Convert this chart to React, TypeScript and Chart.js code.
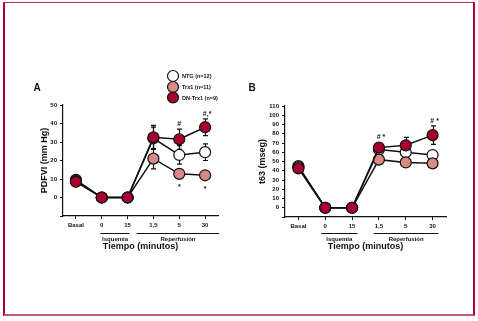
import React, { useEffect, useRef } from 'react';
import { Chart, registerables } from 'chart.js';
Chart.register(...registerables);

const categories = ['Basal', '0', '15', '1,5', '5', '30'];
const seriesNames = ['NTG (n=12)', 'Trx1 (n=11)', 'DN-Trx1 (n=9)'];
const seriesFills = ['#ffffff', '#d98a84', '#a8002e'];

// Panel A: PDFVI (mm Hg)
const pdfviNTG = [9.5, 0, 0, 32, 23, 24.5];
const pdfviNTGErr = [1, 0, 0, 6, 5, 4.5];
const pdfviTrx1 = [9, 0, 0, 21, 12.8, 12];
const pdfviTrx1Err = [1, 0, 0, 5.5, 2.2, 2];
const pdfviDN = [8.5, 0, 0, 32.5, 31.5, 38];
const pdfviDNErr = [1, 0, 0, 6.5, 5.5, 4.5];
const pdfviMarksAbove = ['', '', '', '', '#', '#,*'];
const pdfviMarksBelow = ['', '', '', '', '*', '*'];
const pdfviTicksMax = 50;

// Panel B: t63 (mseg)
const t63NTG = [45, 0, 0, 63, 60, 57];
const t63NTGErr = [1, 0, 0, 2, 3, 2];
const t63Trx1 = [44, 0, 0, 52, 49, 48];
const t63Trx1Err = [1, 0, 0, 2, 2, 2];
const t63DN = [42.5, 0, 0, 65, 67.5, 78.5];
const t63DNErr = [1, 0, 0, 2, 8.5, 10];
const t63MarksAbove = ['', '', '', '# *', '', '# *'];
const t63MarksBelow = ['', '', '', '', '', ''];
const t63TicksMax = 110;

const FONT = '"Liberation Sans", Arial, sans-serif';
const INK = '#111';

type Panel = {
  letter: string;
  yTitle: string;
  max: number;
  series: { values: number[]; errors: number[] }[];
  marksAbove: string[];
  marksBelow: string[];
  padding: { left: number; right: number; top: number; bottom: number };
  yWidth: number;
  letterX: number;
  yTitleX: number;
  isq: [number, number];
  rep: [number, number];
  legend: boolean;
};

function makeDecor(p: Panel) {
  return {
    id: 'decor' + p.letter,
    beforeDatasetsDraw(chart: any) {
      const ctx = chart.ctx;
      const ys = chart.scales.y;
      ctx.save();
      ctx.strokeStyle = INK;
      ctx.lineWidth = 1.2;
      chart.data.datasets.forEach((ds: any, di: number) => {
        const meta = chart.getDatasetMeta(di);
        ds.data.forEach((v: number, i: number) => {
          const e = p.series[di].errors[i];
          if (!e) return;
          const x = Math.round(meta.data[i].x) + 0.5;
          const t = ys.getPixelForValue(v + e);
          const b = ys.getPixelForValue(v - e);
          ctx.beginPath();
          ctx.moveTo(x, t);
          ctx.lineTo(x, b);
          ctx.moveTo(x - 2.5, t);
          ctx.lineTo(x + 2.5, t);
          ctx.moveTo(x - 2.5, b);
          ctx.lineTo(x + 2.5, b);
          ctx.stroke();
        });
      });
      ctx.restore();
    },
    afterDraw(chart: any) {
      const ctx = chart.ctx;
      const area = chart.chartArea;
      const xs = chart.scales.x;
      const ys = chart.scales.y;
      ctx.save();
      ctx.fillStyle = INK;
      ctx.strokeStyle = INK;
      ctx.lineWidth = 1;
      // letter
      ctx.font = `bold 10px ${FONT}`;
      ctx.textAlign = 'center';
      ctx.textBaseline = 'middle';
      ctx.fillText(p.letter, p.letterX, 88);
      // y title
      ctx.save();
      ctx.translate(p.yTitleX, (area.top + area.bottom) / 2);
      ctx.rotate(-Math.PI / 2);
      ctx.font = `bold 9px ${FONT}`;
      ctx.fillText(p.yTitle, 0, 0);
      ctx.restore();
      // brackets
      const step = xs.getPixelForValue(1) - xs.getPixelForValue(0);
      const groups: [string, number, number][] = [
        ['Isquemia', xs.getPixelForValue(1) + p.isq[0] * step, xs.getPixelForValue(2) + p.isq[1] * step],
        ['Reperfusión', xs.getPixelForValue(3) + p.rep[0] * step, xs.getPixelForValue(5) + p.rep[1] * step],
      ];
      ctx.font = `bold 6px ${FONT}`;
      groups.forEach(([label, l, r]) => {
        ctx.beginPath();
        ctx.moveTo(l, 233.5);
        ctx.lineTo(r, 233.5);
        ctx.stroke();
        ctx.fillText(label, (l + r) / 2, 239);
      });
      ctx.font = `bold 9px ${FONT}`;
      ctx.fillText('Tiempo (minutos)', (area.left + area.right) / 2, 247);
      // significance marks
      const dnMeta = chart.getDatasetMeta(2);
      const trMeta = chart.getDatasetMeta(1);
      ctx.font = `bold 7px ${FONT}`;
      p.marksAbove.forEach((m, i) => {
        if (!m) return;
        const v = p.series[2].values[i];
        const e = p.series[2].errors[i];
        const top = Math.min(ys.getPixelForValue(v + e), dnMeta.data[i].y - 5.5);
        ctx.fillText(m, dnMeta.data[i].x + (m.length > 1 ? 2 : 0), top - 5);
      });
      p.marksBelow.forEach((m, i) => {
        if (!m) return;
        const v = p.series[1].values[i];
        const e = p.series[1].errors[i];
        const bot = Math.max(ys.getPixelForValue(v - e), trMeta.data[i].y + 5.5);
        ctx.fillText(m, trMeta.data[i].x, bot + 8);
      });
      // legend
      if (p.legend) {
        const ly = [76, 87, 97.5];
        ctx.font = `bold 5.5px ${FONT}`;
        seriesNames.forEach((n, i) => {
          ctx.beginPath();
          ctx.arc(173, ly[i], 5.5, 0, Math.PI * 2);
          ctx.fillStyle = seriesFills[i];
          ctx.fill();
          ctx.strokeStyle = INK;
          ctx.lineWidth = 1.2;
          ctx.stroke();
          ctx.fillStyle = INK;
          ctx.textAlign = 'left';
          ctx.fillText(n, 182, ly[i] + 0.5);
        });
      }
      ctx.restore();
    },
  };
}

function makeConfig(p: Panel): any {
  const tickFont = { family: FONT, size: 6, weight: 'bold' as const };
  return {
    type: 'line',
    data: {
      labels: categories,
      datasets: p.series.map((s, i) => ({
        label: seriesNames[i],
        data: s.values,
        borderColor: INK,
        borderWidth: 1.5,
        pointRadius: 5.5,
        pointBackgroundColor: seriesFills[i],
        pointBorderColor: INK,
        pointBorderWidth: 1.2,
        order: 2 - i,
        tension: 0,
        fill: false,
      })),
    },
    options: {
      responsive: false,
      maintainAspectRatio: false,
      animation: false,
      events: [],
      layout: { padding: p.padding },
      plugins: { legend: { display: false }, tooltip: { enabled: false } },
      scales: {
        x: {
          type: 'category',
          offset: true,
          grid: { drawOnChartArea: false, tickLength: 3, color: INK },
          border: { color: INK, width: 1.2 },
          ticks: { font: tickFont, color: INK, padding: 3, maxRotation: 0, autoSkip: false },
          afterFit: (s: any) => { s.height = 14; },
        },
        y: {
          min: -10,
          max: p.max,
          grid: { drawOnChartArea: false, tickLength: 3, color: INK },
          border: { color: INK, width: 1.2 },
          ticks: {
            stepSize: 10,
            autoSkip: false,
            font: tickFont,
            color: INK,
            padding: 3,
            callback: (v: number) => (v < 0 ? '' : String(v)),
          },
          afterFit: (s: any) => { s.width = p.yWidth; },
        },
      },
    },
    plugins: [makeDecor(p)],
  };
}

const panelA: Panel = {
  letter: 'A',
  yTitle: 'PDFVI (mm Hg)',
  max: pdfviTicksMax,
  series: [
    { values: pdfviNTG, errors: pdfviNTGErr },
    { values: pdfviTrx1, errors: pdfviTrx1Err },
    { values: pdfviDN, errors: pdfviDNErr },
  ],
  marksAbove: pdfviMarksAbove,
  marksBelow: pdfviMarksBelow,
  padding: { left: 41, right: 22, top: 105, bottom: 91 },
  yWidth: 22,
  letterX: 37,
  yTitleX: 45,
  isq: [-0.05, 0.08],
  rep: [-0.65, 0.55],
  legend: true,
};

const panelB: Panel = {
  letter: 'B',
  yTitle: 't63 (mseg)',
  max: t63TicksMax,
  series: [
    { values: t63NTG, errors: t63NTGErr },
    { values: t63Trx1, errors: t63Trx1Err },
    { values: t63DN, errors: t63DNErr },
  ],
  marksAbove: t63MarksAbove,
  marksBelow: t63MarksBelow,
  padding: { left: 23, right: 32, top: 106, bottom: 90 },
  yWidth: 24,
  letterX: 14,
  yTitleX: 25,
  isq: [-0.15, 0.2],
  rep: [-0.19, 0.22],
  legend: false,
};

function ChartCanvas({ panel, left }: { panel: Panel; left: number }) {
  const ref = useRef<HTMLCanvasElement>(null);
  useEffect(() => {
    if (!ref.current) return;
    const chart = new Chart(ref.current, makeConfig(panel));
    return () => chart.destroy();
  }, []);
  return (
    <canvas
      ref={ref}
      width={240}
      height={321}
      style={{ position: 'absolute', left, top: 0, width: 240, height: 321 }}
    />
  );
}

export default function App() {
  return (
    <div style={{ position: 'fixed', left: 0, top: 0, width: 478, height: 321, background: '#fff', overflow: 'hidden' }}>
      <div
        style={{
          position: 'absolute',
          left: 3,
          top: 2,
          width: 468,
          height: 311,
          borderTop: '1px solid #c02858',
          borderLeft: '2px solid #b0003a',
          borderRight: '2px solid #b0003a',
          borderBottom: '2px solid #c85a7c',
        }}
      />
      <ChartCanvas panel={panelA} left={0} />
      <ChartCanvas panel={panelB} left={238} />
    </div>
  );
}
